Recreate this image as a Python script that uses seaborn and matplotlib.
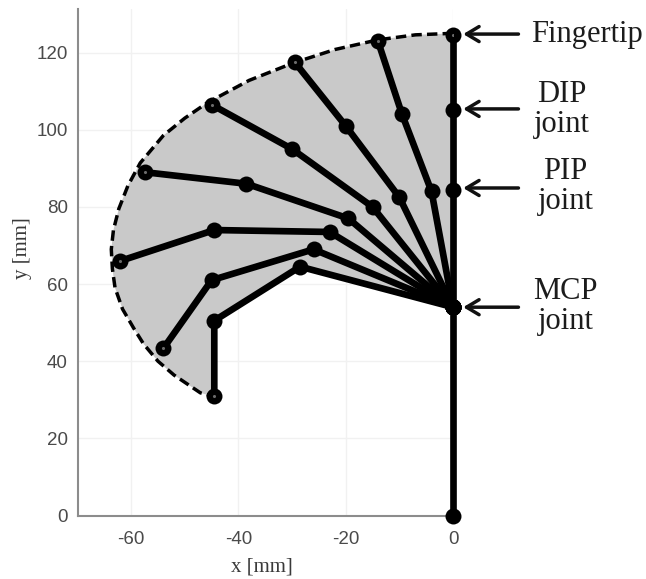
import numpy as np
import pandas as pd
import matplotlib
matplotlib.use('Agg')
import matplotlib.pyplot as plt
import seaborn as sns

# joint positions of each finger pose, straight pose first [mm]
tip_x = [0, -14, -29.5, -45, -57.5, -62, -54, -44.5]
tip_y = [124.5, 123, 117.5, 106.5, 89, 66, 43.3, 31]
dip_x = [0, -9.5, -20, -30, -38.5, -44.5, -45, -44.5]
dip_y = [105, 104, 101, 95, 86, 74, 61, 50.5]
pip_x = [0, -4, -10, -15, -19.5, -23, -26, -28.5]
pip_y = [84.5, 84, 82.5, 80, 77, 73.5, 69, 64.5]
mcp_x = 0
mcp_y = 54
base_x = 0
base_y = 0

# dashed outline of the fingertip path
path_x = [0, -7, -14, -22, -29.8, -38, -45.8, -50, -54, -58.3, -60.6, -62.3, -63.3, -63.7, -63.5, -63, -61.6, -59.5, -57.7, -55, -52, -47.1, -44.5]
path_y = [125, 124.6, 123.3, 120.8, 117.3, 112.8, 107, 103, 98.5, 91.4, 85.5, 79.5, 74, 69, 64, 59, 53.5, 48.5, 44.5, 40, 36.4, 31.8, 30.8]

labels = ['Fingertip', 'DIP\njoint', 'PIP\njoint', 'MCP\njoint']
label_x = [25, 20.3, 21, 21]
label_y = [124.7, 105.2, 85.2, 54.2]
arrow_y = [124.8, 105.4, 84.9, 54]

xticks = [-60, -40, -20, 0]
yticks = [0, 20, 40, 60, 80, 100, 120]

sns.set_theme(style='whitegrid')
plt.rcParams['font.family'] = ['Liberation Sans', 'DejaVu Sans']
plt.rcParams['axes.unicode_minus'] = False

rows = []
for i in range(len(tip_x)):
    xs = [mcp_x, pip_x[i], dip_x[i], tip_x[i]]
    ys = [mcp_y, pip_y[i], dip_y[i], tip_y[i]]
    if i == 0:
        xs = [base_x] + xs
        ys = [base_y] + ys
    for j in range(len(xs)):
        rows.append({'pose': i, 'x': xs[j], 'y': ys[j]})
fingers = pd.DataFrame(rows)

fig = plt.figure(figsize=(6.46, 5.79), dpi=100)
ax = fig.add_axes([77.5 / 646, 63.5 / 579, 375.5 / 646, 506.5 / 579])

# swept area
area_x = path_x + [dip_x[-1], pip_x[-1], mcp_x]
area_y = path_y + [dip_y[-1], pip_y[-1], mcp_y]
ax.fill(area_x, area_y, color='#c9c9c9', lw=0, zorder=1)

sns.lineplot(x=path_x, y=path_y, sort=False, color='black', lw=2.5,
             linestyle=(0, (3.0, 1.5)), ax=ax, zorder=2)
sns.lineplot(data=fingers, x='x', y='y', units='pose', estimator=None, sort=False,
             color='black', lw=4.8, marker='o', ms=11.5, mew=0,
             clip_on=False, legend=False, ax=ax, zorder=3)
sns.scatterplot(x=tip_x, y=tip_y, color='#6a6a6a', s=5, linewidth=0, ax=ax, zorder=4)

ax.set_xlim(-70, 0)
ax.set_ylim(0, 131.3)
ax.set_xticks(xticks)
ax.set_yticks(yticks)
ax.grid(True, color='#f1f1f1', lw=1)
ax.set_axisbelow(True)
ax.tick_params(direction='in', length=4, width=1, color='#777777', labelcolor='#4a4a4a',
               labelsize=13.5, pad=7)
ax.tick_params(axis='x', pad=11)
for s in ['top', 'right']:
    ax.spines[s].set_visible(False)
for s in ['left', 'bottom']:
    ax.spines[s].set_color('#8c8c8c')
    ax.spines[s].set_linewidth(1.5)

ax.set_xlabel('x [mm]', family='Liberation Serif', fontsize=15, color='#3a3a3a')
ax.set_ylabel('y [mm]', family='Liberation Serif', fontsize=15, color='#3a3a3a')
ax.xaxis.set_label_coords((262 - 77.5) / 375.5, -42 / 506.5)
ax.yaxis.set_label_coords(-45.5 / 375.5, (515.5 - 248) / 506.5)

for i in range(len(labels)):
    ax.annotate('', xy=(1.9, arrow_y[i]), xytext=(12.2, arrow_y[i]), annotation_clip=False,
                arrowprops=dict(arrowstyle='->,head_length=0.75,head_width=0.45', color='#111111',
                                lw=2.5, shrinkA=0, shrinkB=0))
    ax.text(label_x[i], label_y[i], labels[i], family='Liberation Serif', fontsize=22,
            color='#1c1c1c', ha='center', va='center', linespacing=1.05, clip_on=False)

plt.savefig('out.png', dpi=100)
